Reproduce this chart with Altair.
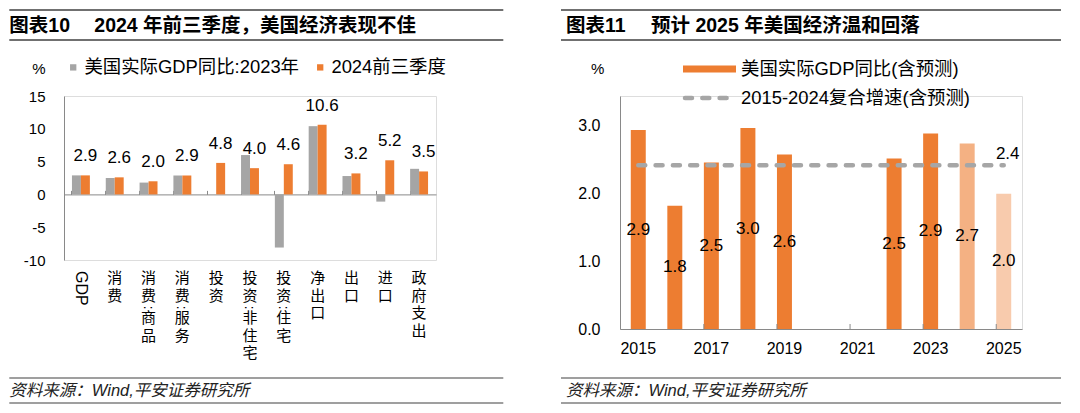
import altair as alt
import pandas as pd

FONT = "Liberation Sans, Noto Sans CJK SC"
ORANGE = "#ED7D31"
GREY = "#A5A5A5"
AXIS = "#898989"

# ---------------- left chart data ----------------
cats = ["GDP", "消费", "消费:商品", "消费:服务", "投资", "投资:非住宅", "投资:住宅",
        "净出口", "出口", "进口", "政府支出"]
s23 = "美国实际GDP同比:2023年"
s24 = "2024前三季度"
v2023 = [2.9, 2.5, 1.8, 2.9, 0.0, 6.0, -8.1, 10.4, 2.8, -1.1, 3.9]
v2024 = [2.9, 2.6, 2.0, 2.9, 4.8, 4.0, 4.6, 10.6, 3.2, 5.2, 3.5]
left_ticks = [-10, -5, 0, 5, 10, 15]

# ---------------- right chart data ----------------
years = [2015, 2016, 2017, 2018, 2019, 2020, 2021, 2022, 2023, 2024, 2025]
gdp = [2.94, 1.82, 2.46, 2.97, 2.58, None, None, 2.52, 2.89, 2.74, 2.0]
kinds = ["实际", "实际", "实际", "实际", "实际", "实际", "实际", "实际", "实际", "预测2024", "预测2025"]
cagr = 2.42
right_ticks = [0, 1, 2, 3]
sname1 = "美国实际GDP同比(含预测)"
sname2 = "2015-2024复合增速(含预测)"

LEG = 18.4
TITLE = 19.5
SRC = 16.5


def txt(s, x, y, size=15, bold=False, italic=False, align="left", color="#000"):
    return alt.Chart(pd.DataFrame({"t": [s]})).mark_text(
        fontSize=size, font=FONT, fontWeight="bold" if bold else "normal",
        fontStyle="italic" if italic else "normal", align=align,
        baseline="middle", color=color,
    ).encode(text="t:N", x=alt.value(x), y=alt.value(y))


def hline(x1, x2, y, w=1.5, color="#404040", dash=None, cap="butt"):
    kw = dict(strokeWidth=w, color=color, strokeCap=cap)
    if dash:
        kw["strokeDash"] = dash
    return alt.Chart(pd.DataFrame({"a": [0]})).mark_rule(**kw).encode(
        x=alt.value(x1), x2=alt.value(x2), y=alt.value(y))


# ================= LEFT PANEL =================
W1, H1 = 372, 164
long = pd.DataFrame(
    [{"cat": c, "series": s23, "value": a} for c, a in zip(cats, v2023)]
    + [{"cat": c, "series": s24, "value": b} for c, b in zip(cats, v2024)]
)
xL_scale = alt.Scale(paddingInner=0.47, paddingOuter=0.235)
xL_axis = alt.Axis(orient="top", offset=-(15 / 25) * H1, labels=False, title=None,
                   bandPosition=0, tickSize=4, tickColor=AXIS, domainColor=AXIS,
                   domainWidth=1)
yL_scale = alt.Scale(domain=[-10, 15], nice=False, zero=False)
yL_axis = alt.Axis(values=left_ticks, grid=False, ticks=False, title=None,
                   labelFontSize=15, labelFont=FONT, labelColor="#000",
                   labelExpr="'' + datum.value",
                   labelOverlap=False, labelPadding=19, domainColor=AXIS)
xoff_scale = alt.Scale(paddingInner=0, paddingOuter=0)


def xL():
    return alt.X("cat:N", sort=cats, scale=xL_scale, axis=xL_axis)


bars_left = alt.Chart(long).mark_bar().encode(
    x=xL(),
    xOffset=alt.XOffset("series:N", sort=[s23, s24], scale=xoff_scale),
    y=alt.Y("value:Q", scale=yL_scale, axis=yL_axis),
    color=alt.Color("series:N", sort=[s23, s24],
                    scale=alt.Scale(domain=[s23, s24], range=[GREY, ORANGE]),
                    legend=alt.Legend(orient="none", legendX=0, legendY=-38,
                                      direction="horizontal", title=None,
                                      symbolType="square", symbolSize=40,
                                      symbolStrokeWidth=0, labelFontSize=LEG,
                                      labelFont=FONT, labelColor="#000",
                                      columnPadding=11, labelOffset=2, padding=0,
                                      labelLimit=400)),
)

val_left = alt.Chart(long).transform_filter(
    alt.datum.series == s24
).mark_text(fontSize=17, font=FONT, baseline="middle", dy=-19, color="#000").encode(
    x=xL(),
    xOffset=alt.XOffset("series:N", sort=[s23, s24], scale=xoff_scale),
    y=alt.Y("value:Q", scale=yL_scale, axis=yL_axis),
    text=alt.Text("value:Q", format=".1f"),
)

# vertical category labels (one character per line, colon rotated and squeezed)
LT, LS, LF = 175, 17.5, 15
pre = [c.split(":")[0] for c in cats]
post = [c.split(":")[1] if ":" in c else "" for c in cats]
lab_df = pd.DataFrame({
    "cat": cats,
    "pre": ["\n".join(list(p)) for p in pre],
    "post": ["\n".join(list(p)) for p in post],
    "colon": [":" if ":" in c else "" for c in cats],
})
lab_base = alt.Chart(lab_df).transform_filter(alt.datum.cat != "GDP")
lab_pre = lab_base.mark_text(fontSize=LF, font=FONT, baseline="top", lineBreak="\n",
                             lineHeight=LS, color="#000").encode(
    x=xL(), y=alt.value(LT), text="pre:N")
lab_colon = lab_base.transform_filter(alt.datum.colon != "").mark_text(
    fontSize=LF, font=FONT, baseline="middle", align="center", angle=90,
    color="#000").encode(
    x=xL(), y=alt.value(LT + 2 * LS + 1.5), text="colon:N")
lab_post = lab_base.mark_text(fontSize=LF, font=FONT, baseline="top", lineBreak="\n",
                              lineHeight=LS, color="#000").encode(
    x=xL(), y=alt.value(LT + 2 * LS + 5), text="post:N")
gdp_label = alt.Chart(lab_df).transform_filter(
    alt.datum.cat == "GDP"
).mark_text(fontSize=16, font=FONT, baseline="middle", align="left", angle=90,
            color="#000").encode(
    x=xL(),
    y=alt.value(LT),
    text="cat:N",
)

left_deco = [
    hline(-54.7, 439.3, -86),
    hline(-54.7, 439.3, -56),
    txt("图表10", -54.7, -70, size=TITLE, bold=True),
    txt("2024 年前三季度，美国经济表现不佳", 30.3, -70, size=TITLE, bold=True),
    txt("%", -31.7, -27, size=15),
    hline(-54.7, 439.3, 282, w=1.2),
    hline(-54.7, 439.3, 307, w=1.2),
    txt("资料来源：Wind,平安证券研究所", -54.7, 295, size=SRC, italic=True, color="#222"),
]

left = alt.layer(bars_left, val_left, lab_pre, lab_colon, lab_post, gdp_label,
                 *left_deco).properties(width=W1, height=H1)

# ================= RIGHT PANEL =================
W2, H2 = 402, 233
rdf = pd.DataFrame({"year": years, "gdp": gdp, "kind": kinds}).dropna()
xR_scale = alt.Scale(domain=years, paddingInner=0.59, paddingOuter=0.295)
xR_axis = alt.Axis(title=None, labelAngle=0, ticks=False, domainColor=AXIS,
                   labelFontSize=16, labelFont=FONT, labelColor="#000",
                   labelPadding=11,
                   labelExpr="datum.value % 2 == 1 ? datum.label : ''")
yR_scale = alt.Scale(domain=[0, 3.443], nice=False)
yR_axis = alt.Axis(values=right_ticks, format=".1f", grid=False, ticks=False,
                   title=None, labelFontSize=16, labelFont=FONT,
                   labelOverlap=False, labelColor="#000", labelPadding=20,
                   domainColor=AXIS)


def xR(**kw):
    return alt.X("year:O", scale=xR_scale, axis=xR_axis, **kw)


def yR(field):
    return alt.Y(field, scale=yR_scale, axis=yR_axis)


bars_right = alt.Chart(rdf).mark_bar().encode(
    x=xR(), y=yR("gdp:Q"),
    color=alt.Color("kind:N", scale=alt.Scale(domain=["实际", "预测2024", "预测2025"],
                                              range=[ORANGE, "#F4B183", "#F8CBAD"]),
                    legend=None),
)
val_right = alt.Chart(rdf).transform_calculate(half="datum.gdp / 2").mark_text(
    fontSize=17, font=FONT, baseline="middle", color="#000").encode(
    x=xR(),
    y=yR("half:Q"),
    text=alt.Text("gdp:Q", format=".1f"),
)
cdf = pd.DataFrame({"year": [years[0], years[-1]], "v": [cagr, cagr]})
cagr_line = alt.Chart(cdf).mark_line(strokeDash=[7, 10.3], strokeCap="round",
                                     strokeWidth=4.5, color="#A6A6A6").encode(
    x=xR(),
    y=yR("v:Q"),
)
cagr_label = alt.Chart(cdf.tail(1)).mark_text(
    fontSize=17, font=FONT, baseline="middle", dx=4, dy=-11, color="#000").encode(
    x=xR(),
    y=yR("v:Q"),
    text=alt.Text("v:Q", format=".1f"),
)
tick_df = pd.DataFrame({"year": years[2::2]})
xticks = alt.Chart(tick_df).mark_rule(color=AXIS, strokeWidth=1).encode(
    x=xR(bandPosition=0),
    y=alt.value(H2 - 5), y2=alt.value(H2),
)

right_deco = [
    hline(-59, 441, -86),
    hline(-59, 441, -56),
    txt("图表11", -54, -70, size=TITLE, bold=True),
    txt("预计 2025 年美国经济温和回落", 31, -70, size=TITLE, bold=True),
    txt("%", -29, -27, size=15),
    hline(63, 116, -27, w=7, color=ORANGE),
    txt(sname1, 121, -27, size=LEG),
    hline(65, 114, 2, w=4.5, color="#A6A6A6", dash=[7, 10.3], cap="round"),
    txt(sname2, 121, 2, size=LEG),
    hline(-59, 441, 282, w=1.2),
    hline(-59, 441, 307, w=1.2),
    txt("资料来源：Wind,平安证券研究所", -54, 295, size=SRC, italic=True, color="#222"),
]

right = alt.layer(bars_right, xticks, cagr_line, val_right, cagr_label,
                  *right_deco).properties(width=W2, height=H2)

chart = alt.hconcat(left, right, spacing=54).resolve_scale(
    x="independent", y="independent", color="independent", xOffset="independent"
).properties(padding=0).configure_view(stroke=None).configure(background="white")

chart.save("out.html", embed_options={"renderer": "svg", "actions": False})
